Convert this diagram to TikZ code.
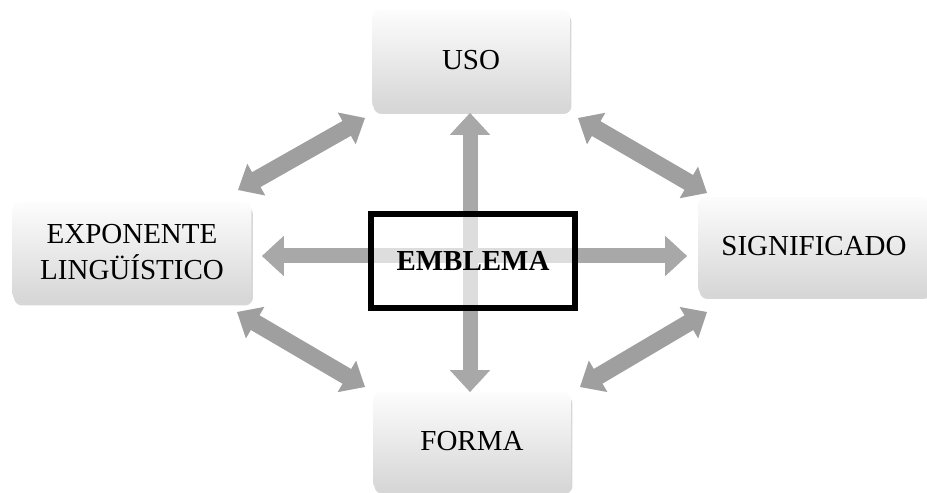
\documentclass[tikz,border=0pt]{standalone}
\usepackage{fontspec}
\setmainfont{Liberation Serif}
\usetikzlibrary{arrows.meta,shadows}

\tikzset{
  box/.style={rectangle, rounded corners=0.16cm, top color=gray!2, bottom color=gray!32,
    drop shadow={fill=gray!70, opacity=0.45, shadow xshift=0.03cm, shadow yshift=-0.08cm},
    minimum width=3.96cm, minimum height=2cm, align=center,
    font=\fontsize{16.5}{21}\selectfont},
  crossarrow/.style={draw=gray!68, line width=0.3cm,
    {Triangle[length=0.44cm,width=0.78cm]}-{Triangle[length=0.44cm,width=0.78cm]}},
  crossshadow/.style={crossarrow, draw=gray!45, shift={(3,3)}},
  diagarrow/.style={draw=gray!75, line width=0.34cm,
    {Triangle[length=0.42cm,width=0.7cm]}-{Triangle[length=0.42cm,width=0.7cm]}},
  diagshadow/.style={diagarrow, draw=gray!35, opacity=0.6, shift={(2,5)}}
}

\begin{document}
\begin{tikzpicture}[x=0.02cm, y=-0.02cm]
			%%%%% START %%%%%
			\useasboundingbox (0,0) rectangle (927,493);
			
			\node[box] (uso) at (471,60) {USO};
			\node[box, minimum width=4.78cm, minimum height=1.98cm] (expo) at (132,252) {EXPONENTE\\LINGÜÍSTICO};
			\node[box, minimum width=4.64cm, minimum height=1.96cm] (signif) at (814,246) {SIGNIFICADO};
			\node[box, minimum height=1.96cm] (forma) at (472,441) {FORMA};
			
			% ends of the arrows
			\coordinate (hleft) at (262,256);
			\coordinate (hright) at (687,256);
			\coordinate (vtop) at (470,113);
			\coordinate (vbottom) at (470,392);
			\coordinate (ul1) at (238,190);
			\coordinate (ul2) at (365,118);
			\coordinate (ur1) at (578,118);
			\coordinate (ur2) at (707,193);
			\coordinate (ll1) at (237,312);
			\coordinate (ll2) at (365,387);
			\coordinate (lr1) at (580,387);
			\coordinate (lr2) at (707,312);
			
			\draw[diagshadow] (ul1) -- (ul2);
			\draw[diagshadow] (ur1) -- (ur2);
			\draw[diagshadow] (ll1) -- (ll2);
			\draw[diagshadow] (lr1) -- (lr2);
			\draw[diagarrow] (ul1) -- (ul2);
			\draw[diagarrow] (ur1) -- (ur2);
			\draw[diagarrow] (ll1) -- (ll2);
			\draw[diagarrow] (lr1) -- (lr2);
			
			\draw[crossshadow] (hleft) -- (hright);
			\draw[crossshadow] (vtop) -- (vbottom);
			\draw[crossarrow] (hleft) -- (hright);
			\draw[crossarrow] (vtop) -- (vbottom);
			
			\node[draw=black, line width=0.12cm, fill=white, fill opacity=0.62, text opacity=1,
			  minimum width=4.08cm, minimum height=1.88cm,
			  font=\fontsize{16.5}{19}\selectfont\bfseries] (emblema) at (473,261) {EMBLEMA};
			%%%%% END %%%%%
\end{tikzpicture}
\end{document}
